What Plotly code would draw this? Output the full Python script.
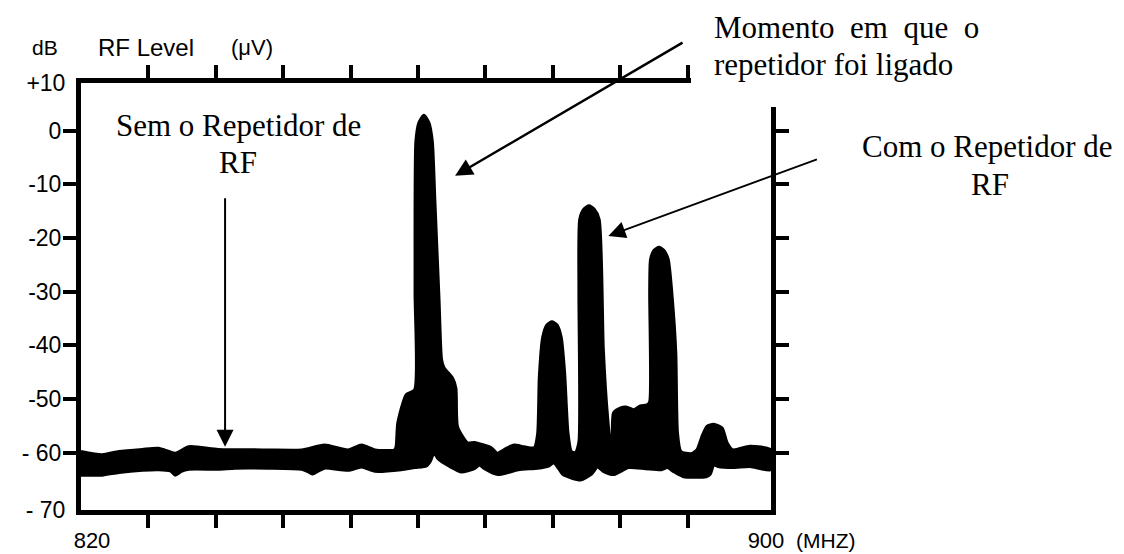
import plotly.graph_objects as go

# ---------------- data ----------------
freq_upper = [820.0, 822.5, 824.5, 827.3, 829.2, 831.2, 832.8, 836.3, 842.2, 846.2,
              848.9, 851.7, 853.3, 854.9, 857.2, 857.4, 857.6, 858.6, 859.6, 859.65,
              859.75, 860.1, 860.7, 861.3, 861.7, 862.0, 862.5, 862.8, 863.1, 864.1,
              864.5, 864.7, 865.9, 866.7, 868.7, 869.4, 870.6, 871.4, 872.6, 873.8,
              874.2, 874.4, 874.8, 875.3, 875.9, 876.5, 877.0, 877.4, 877.8, 878.2,
              878.7, 879.1, 879.1, 879.2, 879.7, 880.3, 880.9, 881.5, 882.0, 882.5,
              882.8, 883.0, 883.2, 884.0, 884.7, 885.6, 886.4, 887.2, 887.5, 887.5,
              887.6, 888.0, 888.6, 889.2, 889.7, 890.2, 890.6, 890.8, 891.2, 892.4,
              893.1, 893.7, 894.3, 895.1, 896.1, 896.7, 897.4, 899.4, 901.9]
level_upper = [-59.8, -60.4, -59.8, -59.4, -59.2, -60.1, -58.9, -59.4, -59.5, -59.5,
               -58.6, -59.5, -58.6, -59.5, -59.5, -58.9, -54.5, -49.2, -48.3, -30.0,
               -2.0, 1.5, 2.9, 1.5, -2.0, -12.9, -31.6, -42.7, -44.2, -46.1,
               -48.0, -55.2, -58.2, -58.1, -59.1, -60.1, -59.1, -58.6, -58.9, -59.1,
               -56.5, -45.9, -38.5, -36.2, -35.6, -36.2, -38.5, -45.0, -56.3, -59.8,
               -60.0, -58.0, -30.0, -16.5, -14.6, -14.0, -14.6, -16.5, -40.8, -53.3,
               -57.5, -57.8, -52.6, -51.7, -51.5, -52.0, -51.3, -51.1, -50.5, -30.0,
               -24.0, -22.3, -21.7, -22.3, -24.0, -31.6, -41.4, -56.3, -59.8, -60.2,
               -59.5, -57.0, -55.1, -54.7, -55.4, -58.2, -59.5, -58.8, -59.5]

freq_lower = [820.0, 822.5, 824.5, 827.3, 829.2, 830.6, 831.2, 831.9, 832.8, 836.3,
              838.3, 842.2, 846.2, 847.0, 847.5, 848.1, 848.9, 851.7, 853.3, 854.9,
              858.0, 859.6, 861.0, 861.5, 861.9, 862.4, 863.9, 865.1, 866.7, 867.3,
              867.9, 869.5, 871.9, 874.2, 875.5, 876.1, 876.7, 877.2, 879.3, 880.6,
              881.3, 882.0, 883.2, 885.0, 887.0, 888.9, 889.6, 890.3, 891.5, 894.2,
              894.7, 895.1, 895.6, 897.4, 899.4, 901.9]
level_lower = [-64.2, -64.2, -63.7, -63.3, -63.2, -63.4, -64.2, -63.5, -63.1, -63.1,
               -62.9, -62.9, -63.1, -63.6, -64.0, -63.5, -62.9, -63.3, -62.7, -63.5,
               -63.2, -62.8, -62.5, -61.5, -60.0, -61.2, -62.7, -63.6, -63.0, -62.3,
               -63.0, -64.1, -63.2, -62.9, -62.5, -61.9, -63.0, -64.1, -65.1, -64.0,
               -62.7, -63.5, -64.1, -62.8, -63.0, -63.2, -62.8, -63.5, -64.5, -64.5,
               -64.0, -62.3, -62.6, -62.8, -62.6, -63.2]

x_ticks = [828, 836, 844, 852, 860, 868, 876, 884, 892]
x_label_vals = [820, 900]
x_label_text = ["820", "900"]
y_ticks = [0, -10, -20, -30, -40, -50, -60]
y_tick_text = ["0", "-10", "-20", "-30", "-40", "-50", "- 60"]
y_label_vals = [10, -70]
y_label_text = ["+10", "- 70"]

# ---------------- layout geometry ----------------
W, H = 1124, 554
L, R, T, B = 81, 353, 83, 44
PW, PH = W - L - R, H - T - B

def px(xp):
    return (xp - L) / PW

def py(yp):
    return (H - B - yp) / PH

X_RANGE = [820.0, 901.9]
Y_RANGE = [-70.7, 8.9]
SANS = "Liberation Sans, Arial, sans-serif"
SERIF = "Liberation Serif, Times New Roman, serif"

fig = go.Figure()
fig.add_trace(go.Scatter(
    x=freq_upper + freq_lower[::-1],
    y=level_upper + level_lower[::-1],
    mode="lines", fill="toself", fillcolor="black",
    line=dict(color="black", width=3, shape="spline", smoothing=0.6),
    hoverinfo="skip", showlegend=False,
))
# invisible trace to activate the label axes
fig.add_trace(go.Scatter(x=[None], y=[None], xaxis="x2", yaxis="y2",
                         showlegend=False, hoverinfo="skip"))

axis_common = dict(showgrid=False, zeroline=False, showline=True, linecolor="black",
                   linewidth=5, mirror="ticks", ticks="outside", ticklen=13,
                   tickwidth=4, tickcolor="black", automargin=False,
                   tickfont=dict(family=SANS, size=23, color="black"))

fig.update_layout(
    width=W, height=H,
    margin=dict(l=L, r=R, t=T, b=B, pad=0, autoexpand=False),
    paper_bgcolor="white", plot_bgcolor="white",
    xaxis=dict(range=X_RANGE, tickvals=x_ticks, ticktext=[""] * len(x_ticks),
               **axis_common),
    yaxis=dict(range=Y_RANGE, tickvals=y_ticks, ticktext=y_tick_text,
               ticklabelstandoff=-3, **axis_common),
    xaxis2=dict(range=X_RANGE, overlaying="x", anchor="y", side="bottom",
                tickvals=x_label_vals, ticktext=x_label_text, showline=False,
                showgrid=False, zeroline=False, ticks="outside", ticklen=13,
                tickcolor="rgba(0,0,0,0)", ticklabelshift=11,
                ticklabelstandoff=-2, automargin=False,
                tickfont=dict(family=SANS, size=22, color="black")),
    yaxis2=dict(range=[-70, 10], overlaying="y", anchor="x", side="left",
                tickvals=y_label_vals, ticktext=y_label_text, showline=False,
                showgrid=False, zeroline=False, ticks="outside", ticklen=13,
                tickcolor="rgba(0,0,0,0)", automargin=False,
                ticklabelstandoff=-3,
                tickfont=dict(family=SANS, size=23, color="black")),
    showlegend=False,
)

# white patch that hides the top-right corner of the frame (behind the caption)
fig.add_shape(type="rect", xref="paper", yref="paper",
              x0=px(691), x1=px(W + 5), y0=py(107), y1=py(-5),
              fillcolor="white", line=dict(width=0), layer="above")

def text(xp, yp, s, size, family=SERIF, xanchor="center"):
    fig.add_annotation(xref="paper", yref="paper", x=px(xp), y=py(yp), text=s,
                       showarrow=False, xanchor=xanchor, yanchor="middle",
                       font=dict(family=family, size=size, color="black"))

# axis captions
text(30, 48, "dB", 21, SANS, "left")
text(96, 48, "RF Level", 24, SANS, "left")
text(229, 48, "(\u03bcV)", 22, SANS, "left")
text(794, 540, "(MHZ)", 21, SANS, "left")

# annotation captions
text(238, 125.5, "Sem o Repetidor de", 31)
text(238, 162.5, "RF", 31)
text(712, 27.5, "Momento \u00a0em \u00a0que \u00a0o", 31, xanchor="left")
text(712, 64.5, "repetidor foi ligado", 31, xanchor="left")
text(987.5, 146.5, "Com o Repetidor de", 31)
text(990, 184.5, "RF", 31)

# arrows (head in data coords, tail offset in pixels)
def arrow(x, y, ax, ay, width, size):
    fig.add_annotation(x=x, y=y, xref="x", yref="y", ax=ax, ay=ay, text="",
                       showarrow=True, arrowhead=2, arrowsize=size,
                       arrowwidth=width, arrowcolor="black", standoff=0,
                       startstandoff=0)

arrow(864.4, -8.4, 229, -134, 2.5, 1.4)
arrow(882.6, -19.6, 210, -77, 1.8, 1.9)
arrow(837.1, -58.9, 0, -250, 2.0, 1.7)

fig.write_html("out.html", config={"displayModeBar": False})
